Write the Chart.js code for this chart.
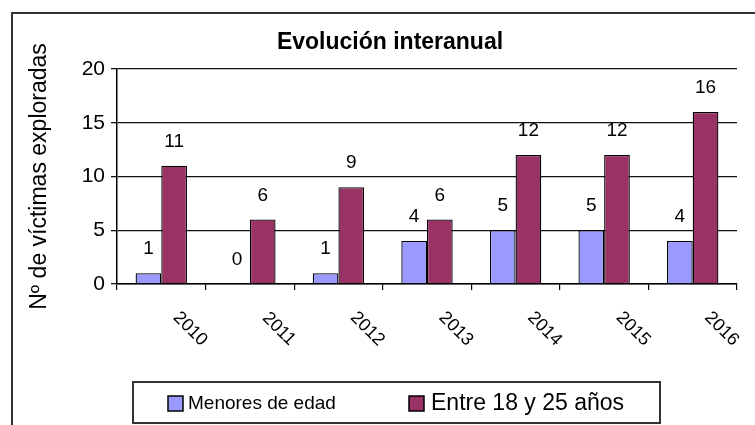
<!DOCTYPE html>
<html>
<head>
<meta charset="utf-8">
<script src="https://cdn.jsdelivr.net/npm/chart.js@4"></script>
<style>
  html, body { margin: 0; padding: 0; background: #fff; }
  #wrap { width: 755px; height: 425px; position: relative; }
</style>
</head>
<body>
<div id="wrap"><canvas id="c" width="755" height="425"></canvas></div>
<script>
const chartTitle = 'Evolución interanual';
const yAxisTitle = 'Nº de víctimas exploradas';
const categories = ['2010', '2011', '2012', '2013', '2014', '2015', '2016'];
const seriesNames = ['Menores de edad', 'Entre 18 y 25 años'];
const menores = [1, 0, 1, 4, 5, 5, 4];
const entre18y25 = [11, 6, 9, 6, 12, 12, 16];
const yMin = 0, yMax = 20, yStep = 5;

const FONT = '"Liberation Sans", Arial, sans-serif';
const colors = ['#9999FF', '#993366'];

const decor = {
  id: 'decor',
  afterDraw(chart) {
    const ctx = chart.ctx;
    const xs = chart.scales.x;
    ctx.save();
    // outer frame
    ctx.strokeStyle = '#333';
    ctx.lineWidth = 2;
    ctx.beginPath();
    ctx.moveTo(12, 425);
    ctx.lineTo(12, 13);
    ctx.lineTo(755, 13);
    ctx.stroke();

    // title
    ctx.fillStyle = '#000';
    ctx.font = 'bold 23px ' + FONT;
    ctx.textAlign = 'center';
    ctx.textBaseline = 'middle';
    ctx.fillText(chartTitle, 390, 43);

    // value labels
    ctx.font = '19px ' + FONT;
    ctx.textBaseline = 'middle';
    chart.data.datasets.forEach((ds, di) => {
      const meta = chart.getDatasetMeta(di);
      meta.data.forEach((bar, i) => {
        ctx.fillText(String(ds.data[i]), bar.x, bar.y - 24);
      });
    });

    // rotated category labels
    ctx.font = '18px ' + FONT;
    categories.forEach((lab, i) => {
      const cx = xs.getPixelForValue(i);
      ctx.save();
      ctx.translate(cx + 29, 329);
      ctx.rotate(Math.PI / 4);
      ctx.fillText(lab, 0, 0);
      ctx.restore();
    });

    // legend
    ctx.strokeStyle = '#333';
    ctx.lineWidth = 2;
    ctx.strokeRect(133, 382, 527, 41);
    const items = [
      { x: 168, tx: 188, size: 19 },
      { x: 409, tx: 431, size: 23 }
    ];
    items.forEach((it, k) => {
      ctx.fillStyle = colors[k];
      ctx.fillRect(it.x, 396, 15, 15);
      ctx.strokeStyle = '#000';
      ctx.lineWidth = 1.5;
      ctx.strokeRect(it.x, 396, 15, 15);
      ctx.fillStyle = '#000';
      ctx.font = it.size + 'px ' + FONT;
      ctx.textAlign = 'left';
      ctx.textBaseline = 'middle';
      ctx.fillText(chart.data.datasets[k].label, it.tx, 404);
    });
    ctx.restore();
  }
};

new Chart(document.getElementById('c'), {
  type: 'bar',
  data: {
    labels: categories,
    datasets: [
      { label: seriesNames[0], data: menores, backgroundColor: colors[0], borderColor: '#000', borderWidth: 1.3 },
      { label: seriesNames[1], data: entre18y25, backgroundColor: colors[1], borderColor: '#000', borderWidth: 1.3 }
    ]
  },
  options: {
    responsive: false,
    animation: false,
    devicePixelRatio: 1,
    layout: { padding: { left: 0, top: 69, right: 18, bottom: 135 } },
    datasets: { bar: { categoryPercentage: 0.58, barPercentage: 1.0 } },
    plugins: { legend: { display: false }, title: { display: false }, tooltip: { enabled: false } },
    scales: {
      x: {
        grid: { display: true, drawOnChartArea: false, drawTicks: true, tickLength: 6, color: '#000', lineWidth: 1.2 },
        border: { display: true, color: '#000', width: 1.5 },
        ticks: { display: false }
      },
      y: {
        min: yMin, max: yMax,
        ticks: { stepSize: yStep, color: '#000', font: { family: FONT, size: 21 }, padding: 6 },
        grid: { color: '#111', lineWidth: 1.3, tickLength: 6 },
        border: { display: true, color: '#000', width: 1.5 },
        title: { display: true, text: yAxisTitle, color: '#000', font: { family: FONT, size: 23 }, padding: { top: 26, bottom: 0 } },
        afterFit(scale) { scale.width = 117; }
      }
    }
  },
  plugins: [decor]
});
</script>
</body>
</html>
